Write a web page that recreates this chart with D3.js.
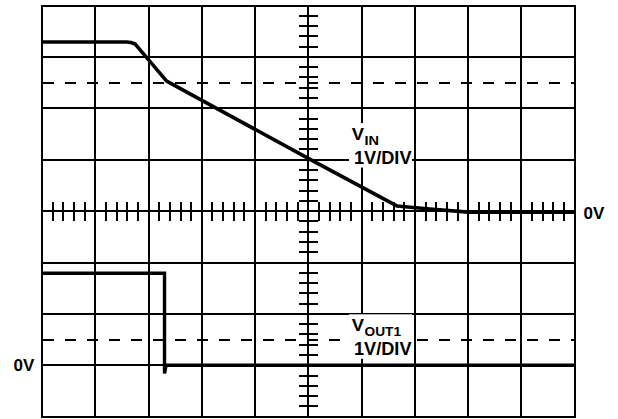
<!DOCTYPE html>
<html>
<head>
<meta charset="utf-8">
<script src="https://cdn.jsdelivr.net/npm/d3@7"></script>
<style>
  body { margin: 0; background: #fff; }
  svg { display: block; font-family: "Liberation Sans", Arial, Helvetica, sans-serif; font-weight: bold; }
</style>
</head>
<body>
<svg id="canvas"></svg>
<script>
// screen is 10 x 8 divisions, 1V/DIV for both channels
var divX = d3.range(0, 11);
var divY = d3.range(-4, 5);

// VIN trace, 0V on the centre line
var vinT = [0, 1.59, 1.67, 1.75, 2.34, 4.99, 6.66, 7.28, 8.0, 10];
var vinV = [3.29, 3.29, 3.28, 3.25, 2.53, 1.03, 0.10, 0.04, -0.02, -0.02];

// VOUT1 trace, 0V three divisions below centre
var voutT = [0, 2.30, 2.30, 2.33, 10];
var voutV = [1.79, 1.79, -0.16, 0.0, 0.0];

var vinZero = 0;
var voutZero = -3;
var dashedRows = [2.5, -2.5];

var width = 618, height = 419;

var svg = d3.select("#canvas")
    .attr("width", width)
    .attr("height", height);

var x = d3.scaleLinear().domain([0, 10]).range([42, 574.7]);
var y = d3.scaleLinear().domain([-4, 4]).range([416.7, 5.5]);

var grid = svg.append("g")
    .attr("stroke", "#000")
    .attr("stroke-width", 2)
    .attr("shape-rendering", "crispEdges");

// major grid
grid.selectAll(".vline")
    .data(divX)
  .enter().append("line")
    .attr("class", "vline")
    .attr("x1", function(d) { return x(d); })
    .attr("x2", function(d) { return x(d); })
    .attr("y1", y(4) - 1)
    .attr("y2", y(-4) + 1);

grid.selectAll(".hline")
    .data(divY)
  .enter().append("line")
    .attr("class", "hline")
    .attr("x1", x(0) - 1)
    .attr("x2", x(10) + 1)
    .attr("y1", function(d) { return y(d); })
    .attr("y2", function(d) { return y(d); });

// dashed half-division lines
grid.selectAll(".dash")
    .data(dashedRows)
  .enter().append("line")
    .attr("class", "dash")
    .attr("x1", x(0) + 1)
    .attr("x2", x(10))
    .attr("y1", function(d) { return y(d); })
    .attr("y2", function(d) { return y(d); })
    .attr("stroke-dasharray", "11,11");

// minor ticks on the centre axes
var minorX = d3.range(0, 51).map(function(i) { return i / 5; });
var minorY = d3.range(-20, 21).map(function(i) { return i / 5; });

grid.selectAll(".xtick")
    .data(minorX)
  .enter().append("line")
    .attr("class", "xtick")
    .attr("x1", function(d) { return x(d); })
    .attr("x2", function(d) { return x(d); })
    .attr("y1", y(0) - 9.5)
    .attr("y2", y(0) + 9.5);

grid.selectAll(".ytick")
    .data(minorY)
  .enter().append("line")
    .attr("class", "ytick")
    .attr("y1", function(d) { return y(d); })
    .attr("y2", function(d) { return y(d); })
    .attr("x1", x(5) - 9.7)
    .attr("x2", x(5) + 9.7);

// traces
var line = d3.line()
    .x(function(d) { return x(d[0]); })
    .y(function(d) { return y(d[1]); });

var vinData = vinT.map(function(t, i) { return [t, vinV[i] + vinZero]; });
var voutData = voutT.map(function(t, i) { return [t, voutV[i] + voutZero]; });

svg.append("path")
    .attr("d", line(vinData))
    .attr("fill", "none")
    .attr("stroke", "#000")
    .attr("stroke-width", 3.6)
    .attr("stroke-linejoin", "round");

svg.append("path")
    .attr("d", line(voutData))
    .attr("fill", "none")
    .attr("stroke", "#000")
    .attr("stroke-width", 3.4)
    .attr("stroke-linejoin", "miter");

// channel labels with white boxes
function channelLabel(sub, subLen, top) {
  var g = svg.append("g");
  g.append("rect")
      .attr("x", 349).attr("y", top)
      .attr("width", 63).attr("height", 44.5)
      .attr("fill", "#fff");
  var t = g.append("text")
      .attr("x", 351.7).attr("y", top + 16.7)
      .style("font-size", "16.5px")
      .attr("textLength", 12.3).attr("lengthAdjust", "spacingAndGlyphs")
      .text("V");
  g.append("text")
      .attr("x", 364.5).attr("y", top + 22)
      .style("font-size", "12px")
      .attr("textLength", subLen).attr("lengthAdjust", "spacingAndGlyphs")
      .text(sub);
  g.append("text")
      .attr("x", 354).attr("y", top + 40.7)
      .style("font-size", "18px")
      .attr("textLength", 57.5).attr("lengthAdjust", "spacingAndGlyphs")
      .text("1V/DIV");
}

channelLabel("IN", 14.5, 123);
channelLabel("OUT1", 36.5, 314.3);

// 0V markers
svg.append("text")
    .attr("x", 583.5).attr("y", y(vinZero) + 8)
    .style("font-size", "17px")
    .text("0V");

svg.append("text")
    .attr("x", 34.3).attr("y", y(voutZero) + 6)
    .attr("text-anchor", "end")
    .style("font-size", "17px")
    .text("0V");
</script>
</body>
</html>
